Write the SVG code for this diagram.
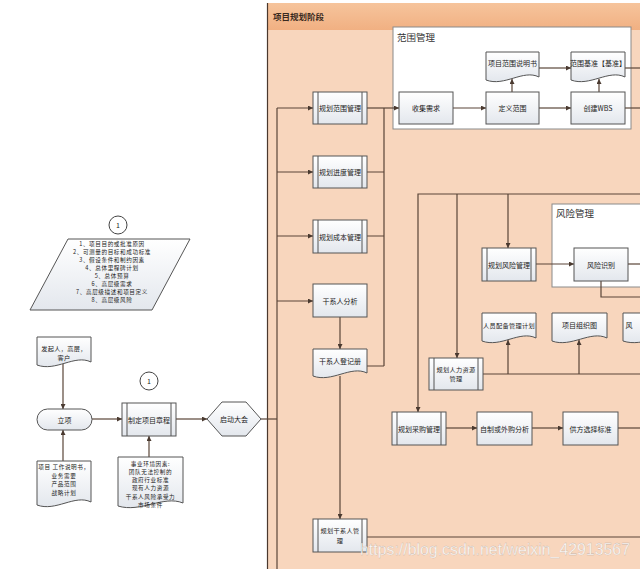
<svg xmlns="http://www.w3.org/2000/svg" width="640" height="569" viewBox="0 0 640 569">
<style>
.t{font-family:"Noto Sans CJK SC","Liberation Sans",sans-serif;font-size:7px;fill:#222;text-anchor:middle;dominant-baseline:central}
.s{font-size:5.6px;letter-spacing:0.6px}
.m{font-size:6.2px;letter-spacing:0.3px}
.ttl{font-family:"Noto Sans CJK SC","Liberation Sans",sans-serif;font-size:9.5px;fill:#333}
.box{fill:url(#boxg);stroke:#555;stroke-width:1}
.doc{fill:url(#boxg);stroke:#555;stroke-width:1}
.in{stroke:#555;stroke-width:1}
.c{fill:none;stroke:#5a4538;stroke-width:1.2}
.a{marker-end:url(#ar)}
.cont{fill:#fff;stroke:#8a8a8a;stroke-width:1}
</style>
<defs>
<linearGradient id="boxg" x1="0" y1="0" x2="0" y2="1"><stop offset="0" stop-color="#ffffff"/><stop offset="1" stop-color="#e3e7ed"/></linearGradient>
<linearGradient id="hdr" x1="0" y1="0" x2="0" y2="1"><stop offset="0" stop-color="#f6c49c"/><stop offset="1" stop-color="#f1b082"/></linearGradient>
<marker id="ar" viewBox="0 0 10 10" refX="10" refY="5" markerWidth="5" markerHeight="5" orient="auto" markerUnits="userSpaceOnUse"><path d="M0,0 L10,5 L0,10 z" fill="#4a3a30"/></marker>
</defs>
<rect x="0" y="0" width="640" height="569" fill="#fff"/>
<g id="lane">
<rect x="267" y="3" width="380" height="570" fill="#f8d6bd"/>
<rect x="267" y="3" width="380" height="27" fill="url(#hdr)"/>
<line x1="267.5" y1="3" x2="267.5" y2="569" stroke="#4a382e" stroke-width="1.2"/>
<text x="273" y="16" style="font-family:'Noto Sans CJK SC',sans-serif;font-size:8.5px;font-weight:bold;fill:#3a2a20;dominant-baseline:central">项目规划阶段</text>
</g>
<g id="scope-container">
<rect class="cont" x="393" y="27" width="238" height="102"/>
<text class="ttl" x="397" y="41">范围管理</text>
</g>
<g id="risk-container">
<rect class="cont" x="552" y="204" width="100" height="83"/>
<text class="ttl" x="556" y="217">风险管理</text>
</g>
<g id="connectors">
<path class="c" d="M277,108 V569"/>
<path class="c" d="M261,419 H277"/>
<path class="c a" d="M277,108 H313"/>
<path class="c a" d="M277,172 H313"/>
<path class="c a" d="M277,236 H313"/>
<path class="c a" d="M277,301 H313"/>
<path class="c a" d="M367,108 H399"/>
<path class="c" d="M367,172 H384 M367,236 H384 M367,366 H384 M384,366 V108"/>
<path class="c a" d="M453,108 H486"/>
<path class="c a" d="M539,108 H571"/>
<path class="c" d="M625,108 H640"/>
<path class="c a" d="M512,92 V79"/>
<path class="c a" d="M599,92 V79"/>
<path class="c a" d="M539,68 H571"/>
<path class="c" d="M625,68 H640"/>
<path class="c a" d="M340,317 V349"/>
<path class="c a" d="M340,376 V519"/>
<path class="c" d="M367,537 H640"/>
<path class="c a" d="M640,194 H418 V412"/>
<path class="c a" d="M457,194 V358"/>
<path class="c a" d="M508,194 V248"/>
<path class="c a" d="M536,264 H574"/>
<path class="c" d="M628,264 H640"/>
<path class="c" d="M601,281 V297 H640"/>
<path class="c" d="M483,374 H640"/>
<path class="c a" d="M508,374 V340"/>
<path class="c a" d="M579,374 V340"/>
<path class="c a" d="M446,428 H477"/>
<path class="c a" d="M532,428 H563"/>
<path class="c" d="M618,428 H640"/>
<path class="c a" d="M63,364 V409"/>
<path class="c a" d="M63,461 V430"/>
<path class="c a" d="M92,419 H122"/>
<path class="c a" d="M176,419 H207"/>
<path class="c a" d="M149,457 V436"/>
</g>
<g id="n-charter-ref1">
<circle cx="118" cy="225" r="9" fill="#fff" stroke="#444" stroke-width="1"/>
<text class="t" x="118" y="225">1</text>
</g>
<g id="n-charter-content">
<polygon points="68,239 190,239 152,310 30,310" class="box"/>
<text class="t s" x="112" y="243.5">1、项目目的或批准原因</text>
<text class="t s" x="112" y="251.6">2、可测量的目标和成功标准</text>
<text class="t s" x="112" y="259.7">3、假设条件和制约因素</text>
<text class="t s" x="112" y="267.8">4、总体里程碑计划</text>
<text class="t s" x="112" y="275.9">5、总体预算</text>
<text class="t s" x="112" y="284">6、高层级需求</text>
<text class="t s" x="112" y="292.1">7、高层级描述和项目定义</text>
<text class="t s" x="112" y="300.2">8、高层级风险</text>
</g>
<g id="n-sponsor">
<path class="doc" d="M37,337 H91 V362 C74.8,354 55.9,372 37,365 Z"/>
<text class="t m" x="64" y="348.5">发起人，高层，</text>
<text class="t m" x="64" y="357.5">客户</text>
</g>
<g id="n-initiate">
<rect class="box" x="37" y="409" width="55" height="21" rx="10.5"/>
<text class="t" x="64.5" y="419.5">立项</text>
</g>
<g id="n-sow">
<path class="doc" d="M37,461 H91 V502 C74.8,494 55.9,512 37,505 Z"/>
<text class="t s" x="64" y="467">项目 工作说明书，</text>
<text class="t s" x="64" y="475.5">业务需要</text>
<text class="t s" x="64" y="484">产品范围</text>
<text class="t s" x="64" y="492.5">战略计划</text>
</g>
<g id="n-charter-ref2">
<circle cx="149" cy="381" r="9" fill="#fff" stroke="#444" stroke-width="1"/>
<text class="t" x="149" y="381">1</text>
</g>
<g id="n-charter">
<rect class="box" x="122" y="403" width="54" height="33"/>
<line class="in" x1="127" y1="403" x2="127" y2="436"/><line class="in" x1="171" y1="403" x2="171" y2="436"/>
<text class="t" x="149" y="419.5">制定项目章程</text>
</g>
<g id="n-eef">
<path class="doc" d="M118,457 H183 V503 C163.5,495 140.75,513 118,506 Z"/>
<text class="t s" x="150.5" y="463.5">事业环境因素:</text>
<text class="t s" x="150.5" y="471.8">团队无法控制的</text>
<text class="t s" x="150.5" y="480.1">政府行业标准</text>
<text class="t s" x="150.5" y="488.4">现有人力资源</text>
<text class="t s" x="150.5" y="496.7">干系人风险承受力</text>
<text class="t s" x="150.5" y="505">市场条件</text>
</g>
<g id="n-kickoff">
<polygon class="box" points="207,419 222,402 246,402 261,419 246,436 222,436"/>
<text class="t" x="234" y="419">启动大会</text>
</g>
<g id="n-plan-scope">
<rect class="box" x="313" y="92" width="54" height="32"/>
<line class="in" x1="318" y1="92" x2="318" y2="124"/><line class="in" x1="362" y1="92" x2="362" y2="124"/>
<text class="t" x="340" y="108">规划范围管理</text>
</g>
<g id="n-collect">
<rect class="box" x="399" y="92" width="54" height="32"/>
<text class="t" x="426" y="108">收集需求</text>
</g>
<g id="n-define">
<rect class="box" x="486" y="92" width="53" height="32"/>
<text class="t" x="512.5" y="108">定义范围</text>
</g>
<g id="n-wbs">
<rect class="box" x="571" y="92" width="54" height="32"/>
<text class="t" x="598" y="108">创建WBS</text>
</g>
<g id="n-scope-stmt">
<path class="doc" d="M486,52 H539 V77 C523.1,69 504.6,87 486,80 Z"/>
<text class="t" x="512.5" y="63">项目范围说明书</text>
</g>
<g id="n-scope-baseline">
<path class="doc" d="M571,52 H625 V77 C608.8,69 589.9,87 571,80 Z"/>
<text class="t" x="598" y="63">范围基准【基准】</text>
</g>
<g id="n-plan-schedule">
<rect class="box" x="313" y="156" width="54" height="32"/>
<line class="in" x1="318" y1="156" x2="318" y2="188"/><line class="in" x1="362" y1="156" x2="362" y2="188"/>
<text class="t" x="340" y="172">规划进度管理</text>
</g>
<g id="n-plan-cost">
<rect class="box" x="313" y="220" width="54" height="33"/>
<line class="in" x1="318" y1="220" x2="318" y2="253"/><line class="in" x1="362" y1="220" x2="362" y2="253"/>
<text class="t" x="340" y="236.5">规划成本管理</text>
</g>
<g id="n-stakeholder-analysis">
<rect class="box" x="313" y="284" width="54" height="33"/>
<text class="t" x="340" y="300.5">干系人分析</text>
</g>
<g id="n-stakeholder-register">
<path class="doc" d="M313,349 H367 V373 C350.8,365 331.9,383 313,376 Z"/>
<text class="t" x="340" y="361">干系人登记册</text>
</g>
<g id="n-plan-stakeholder">
<rect class="box" x="313" y="519" width="54" height="33"/>
<line class="in" x1="318" y1="519" x2="318" y2="552"/><line class="in" x1="362" y1="519" x2="362" y2="552"/>
<text class="t m" x="340" y="530.5">规划干系人管</text>
<text class="t m" x="340" y="540">理</text>
</g>
<g id="n-plan-risk">
<rect class="box" x="482" y="248" width="54" height="33"/>
<line class="in" x1="487" y1="248" x2="487" y2="281"/><line class="in" x1="531" y1="248" x2="531" y2="281"/>
<text class="t" x="509" y="264.5">规划风险管理</text>
</g>
<g id="n-risk-id">
<rect class="box" x="574" y="248" width="54" height="33"/>
<text class="t" x="601" y="264.5">风险识别</text>
</g>
<g id="n-staffing-plan">
<path class="doc" d="M482,313 H536 V338 C519.8,330 500.9,348 482,341 Z"/>
<text class="t m" x="509" y="325">人员配备管理计划</text>
</g>
<g id="n-org-chart">
<path class="doc" d="M552,313 H607 V338 C590.5,330 571.25,348 552,341 Z"/>
<text class="t" x="579.5" y="325">项目组织图</text>
</g>
<g id="n-risk-doc">
<path class="doc" d="M623,313 H683 V338 C665,330 644,348 623,341 Z"/>
<text class="t" x="629" y="325">风</text>
</g>
<g id="n-plan-hr">
<rect class="box" x="429" y="358" width="54" height="32"/>
<line class="in" x1="434" y1="358" x2="434" y2="390"/><line class="in" x1="478" y1="358" x2="478" y2="390"/>
<text class="t m" x="456" y="369">规划人力资源</text>
<text class="t m" x="456" y="378.5">管理</text>
</g>
<g id="n-plan-procure">
<rect class="box" x="392" y="412" width="54" height="33"/>
<line class="in" x1="397" y1="412" x2="397" y2="445"/><line class="in" x1="441" y1="412" x2="441" y2="445"/>
<text class="t" x="419" y="428.5">规划采购管理</text>
</g>
<g id="n-make-buy">
<rect class="box" x="477" y="412" width="55" height="33"/>
<text class="t" x="504.5" y="428.5">自制或外购分析</text>
</g>
<g id="n-seller-criteria">
<rect class="box" x="563" y="412" width="55" height="33"/>
<text class="t" x="590.5" y="428.5">供方选择标准</text>
</g>
<text x="360" y="555" textLength="270" lengthAdjust="spacingAndGlyphs" style="font-family:'Liberation Sans',sans-serif;font-size:16px;fill:#ffffff;fill-opacity:0.9;stroke:#9a8a80;stroke-width:0.3;stroke-opacity:0.6">https://blog.csdn.net/weixin_42913567</text>
</svg>
